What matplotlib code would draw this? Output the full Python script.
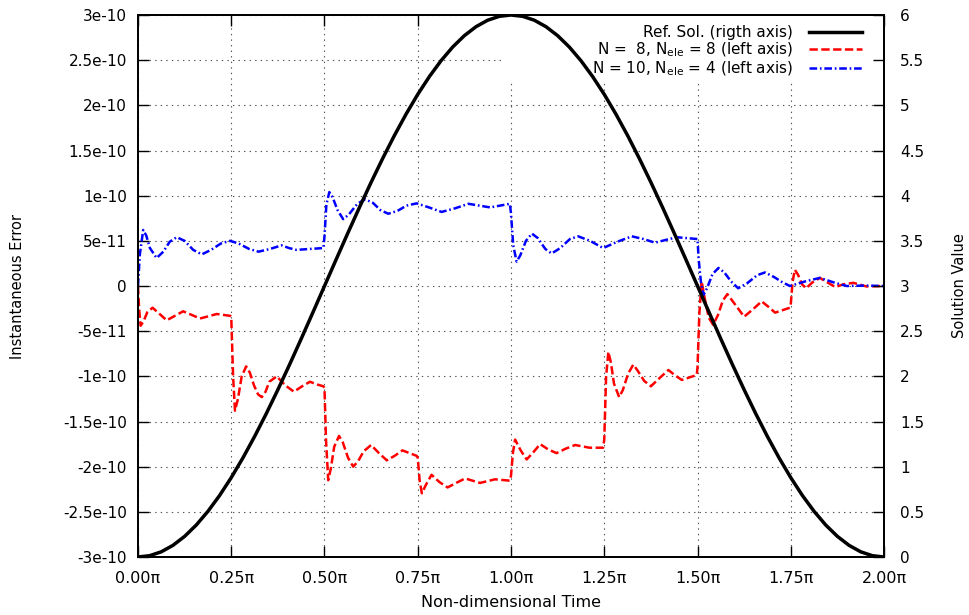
import numpy as np
import matplotlib
matplotlib.use('Agg')
import matplotlib.pyplot as plt
from matplotlib.patches import Rectangle

plt.rc('font', size=11, family='DejaVu Sans')
plt.rc('mathtext', fontset='dejavusans')
plt.rc('lines', scale_dashes=False)

# reference solution (right axis), time in units of pi
ref_t = [0.0, 0.03125, 0.0625, 0.09375, 0.125, 0.15625, 0.1875, 0.21875, 0.25,
         0.28125, 0.3125, 0.34375, 0.375, 0.40625, 0.4375, 0.46875, 0.5,
         0.53125, 0.5625, 0.59375, 0.625, 0.65625, 0.6875, 0.71875, 0.75,
         0.78125, 0.8125, 0.84375, 0.875, 0.90625, 0.9375, 0.96875, 1.0,
         1.03125, 1.0625, 1.09375, 1.125, 1.15625, 1.1875, 1.21875, 1.25,
         1.28125, 1.3125, 1.34375, 1.375, 1.40625, 1.4375, 1.46875, 1.5,
         1.53125, 1.5625, 1.59375, 1.625, 1.65625, 1.6875, 1.71875, 1.75,
         1.78125, 1.8125, 1.84375, 1.875, 1.90625, 1.9375, 1.96875, 2.0]
ref_val = [0.0, 0.0145, 0.0576, 0.1292, 0.2284, 0.3542, 0.5056, 0.6810, 0.8787,
           1.0968, 1.3333, 1.5858, 1.8520, 2.1292, 2.4147, 2.7059, 3.0,
           3.2941, 3.5853, 3.8708, 4.1480, 4.4142, 4.6667, 4.9032, 5.1213,
           5.3190, 5.4944, 5.6458, 5.7716, 5.8708, 5.9424, 5.9855, 6.0,
           5.9855, 5.9424, 5.8708, 5.7716, 5.6458, 5.4944, 5.3190, 5.1213,
           4.9032, 4.6667, 4.4142, 4.1480, 3.8708, 3.5853, 3.2941, 3.0,
           2.7059, 2.4147, 2.1292, 1.8520, 1.5858, 1.3333, 1.0968, 0.8787,
           0.6810, 0.5056, 0.3542, 0.2284, 0.1292, 0.0576, 0.0145, 0.0]

# N = 8, Nele = 8 error (units of 1e-11)
red_t = [0.0, 0.003, 0.007, 0.015, 0.025, 0.039, 0.058, 0.077, 0.099, 0.121,
         0.144, 0.166, 0.189, 0.211, 0.247,
         0.250, 0.255, 0.260, 0.268, 0.278, 0.290, 0.300, 0.311, 0.322, 0.332,
         0.342, 0.352, 0.372, 0.395, 0.418, 0.440, 0.461, 0.480, 0.497,
         0.500, 0.504, 0.510, 0.517, 0.526, 0.539, 0.549, 0.563, 0.577, 0.590,
         0.605, 0.625, 0.646, 0.667, 0.688, 0.709, 0.747,
         0.750, 0.755, 0.761, 0.772, 0.787, 0.808, 0.830, 0.853, 0.877, 0.917,
         0.957, 0.997,
         1.000, 1.005, 1.011, 1.026, 1.042, 1.060, 1.078, 1.100, 1.122, 1.147,
         1.172, 1.210, 1.247,
         1.250, 1.255, 1.261, 1.268, 1.276, 1.290, 1.300, 1.314, 1.328, 1.340,
         1.357, 1.375, 1.398, 1.422, 1.440, 1.458, 1.498,
         1.500, 1.505, 1.511, 1.520, 1.530, 1.542, 1.555, 1.568, 1.580, 1.600,
         1.625, 1.648, 1.672, 1.690, 1.708, 1.748,
         1.750, 1.755, 1.761, 1.770, 1.780, 1.791, 1.808, 1.828, 1.848, 1.869,
         1.893, 1.918, 1.953, 2.000]
red_err = [0.0, -2.5, -4.4, -3.9, -2.9, -2.4, -3.1, -3.8, -3.3, -2.8,
           -3.2, -3.6, -3.35, -3.1, -3.3,
           -3.4, -10.0, -13.8, -12.5, -10.0, -8.9, -9.6, -11.0, -12.0, -12.3,
           -11.7, -10.6, -10.0, -11.0, -11.7, -11.1, -10.6, -10.9, -11.1,
           -11.3, -17.0, -21.5, -20.2, -17.8, -16.6, -17.3, -19.0, -20.0, -19.4,
           -18.3, -17.6, -18.5, -19.3, -18.8, -18.2, -18.8,
           -19.0, -21.5, -22.95, -22.0, -20.9, -21.7, -22.3, -21.8, -21.3, -21.8,
           -21.4, -21.55,
           -21.0, -18.5, -17.0, -18.2, -19.2, -18.4, -17.5, -18.1, -18.5, -18.0,
           -17.6, -17.9, -17.9,
           -17.0, -10.0, -7.3, -8.5, -10.8, -12.3, -11.5, -9.7, -8.7, -9.4,
           -10.5, -11.1, -10.2, -9.3, -9.9, -10.4, -9.85,
           -9.0, -3.0, 0.5, -1.5, -3.5, -4.3, -3.2, -1.6, -0.9, -2.0,
           -3.4, -2.6, -1.7, -2.3, -2.95, -2.4,
           -2.0, 0.5, 1.8, 1.2, 0.2, -0.25, 0.4, 0.9, 0.4, -0.1,
           0.2, 0.35, -0.05, 0.0]

# N = 10, Nele = 4 error (units of 1e-11)
blue_t = [0.0, 0.005, 0.014, 0.022, 0.032, 0.050, 0.068, 0.085, 0.104, 0.125,
          0.148, 0.171, 0.196, 0.222, 0.247, 0.270, 0.298, 0.323, 0.354, 0.385,
          0.405, 0.425, 0.460, 0.497,
          0.500, 0.505, 0.513, 0.522, 0.535, 0.550, 0.565, 0.588, 0.609, 0.630,
          0.650, 0.671, 0.695, 0.720, 0.747, 0.780, 0.814, 0.850, 0.886, 0.944,
          0.997,
          1.000, 1.006, 1.015, 1.025, 1.040, 1.056, 1.072, 1.092, 1.109, 1.132,
          1.158, 1.180, 1.212, 1.247, 1.285, 1.324, 1.355, 1.386, 1.444, 1.500,
          1.503, 1.509, 1.516, 1.526, 1.540, 1.556, 1.572, 1.590, 1.609, 1.633,
          1.660, 1.681, 1.705, 1.728, 1.748, 1.788, 1.828, 1.865, 1.900, 1.950,
          2.000]
blue_err = [0.0, 3.5, 6.2, 5.6, 4.2, 3.1, 3.8, 4.9, 5.4, 5.0,
            4.0, 3.5, 4.0, 4.7, 5.0, 4.7, 4.1, 3.8, 4.1, 4.5,
            4.2, 4.0, 4.1, 4.2,
            5.5, 9.0, 10.4, 9.8, 8.4, 7.4, 7.9, 9.1, 9.6, 9.2,
            8.4, 8.0, 8.3, 8.9, 9.15, 8.7, 8.2, 8.6, 9.1, 8.7,
            9.1,
            8.0, 4.5, 2.7, 3.4, 5.0, 5.8, 5.3, 4.1, 3.6, 4.2,
            5.2, 5.5, 5.0, 4.2, 4.9, 5.5, 5.2, 4.8, 5.4, 5.2,
            3.0, 0.5, -1.0, -0.2, 1.3, 2.0, 1.5, 0.5, -0.25, 0.3,
            1.2, 1.5, 1.0, 0.4, 0.0, 0.5, 0.9, 0.4, 0.0, 0.05,
            0.0]

xticks = [0.0, 0.25, 0.5, 0.75, 1.0, 1.25, 1.5, 1.75, 2.0]
yticks_left = np.arange(-3e-10, 3.01e-10, 0.5e-10)
ylabels_left = ['-3e-10', '-2.5e-10', '-2e-10', '-1.5e-10', '-1e-10', '-5e-11', '0',
                '5e-11', '1e-10', '1.5e-10', '2e-10', '2.5e-10', '3e-10']
yticks_right = np.arange(0, 6.01, 0.5)
ylabels_right = ['0', '0.5', '1', '1.5', '2', '2.5', '3', '3.5', '4', '4.5', '5', '5.5', '6']

fig = plt.figure(figsize=(9.69, 6.15), dpi=100)
ax = fig.add_axes([0.1424, 0.0943, 0.7699, 0.8813])
ax2 = ax.twinx()

ax.set_axisbelow(True)
ax.grid(True, linestyle=(0, (1, 3)), color='#555555', linewidth=0.8)
# white key area covering the grid
ax.add_patch(Rectangle((0.489, 0.8745), 0.511, 0.1255, transform=ax.transAxes,
                       facecolor='white', edgecolor='none', zorder=1))

l2, = ax.plot(red_t, np.array(red_err)*1e-11, color='#ff0000', lw=1.8,
              dashes=(6, 2.5), label=r'N =  8, N$_{\rm ele}$ = 8 (left axis)')
l3, = ax.plot(blue_t, np.array(blue_err)*1e-11, color='#0000ff', lw=1.8,
              dashes=(5.5, 2, 1.2, 2), label=r'N = 10, N$_{\rm ele}$ = 4 (left axis)')
l1, = ax2.plot(ref_t, ref_val, color='black', lw=2.5, label='Ref. Sol. (rigth axis)')

ax.set_xlim(0, 2)
ax.set_ylim(-3e-10, 3e-10)
ax2.set_ylim(0, 6)
ax.set_xticks(xticks)
ax.set_xticklabels(['%.2f\u03c0' % v for v in xticks], fontsize=11.5)
ax.set_yticks(yticks_left)
ax.set_yticklabels(ylabels_left)
ax2.set_yticks(yticks_right)
ax2.set_yticklabels(ylabels_right)

ax.tick_params(axis='x', direction='in', length=8, width=1, top=True, pad=10)
ax.tick_params(axis='y', direction='in', length=8, width=1, pad=8)
ax2.tick_params(axis='y', direction='in', length=8, width=1, pad=11.5)
for a in (ax, ax2):
    for s in a.spines.values():
        s.set_linewidth(1.3)

ax.set_xlabel('Non-dimensional Time', fontsize=11.5)
ax.xaxis.set_label_coords(0.5, -0.070)
ax.set_ylabel('Instantaneous Error', fontsize=10.5)
ax.yaxis.set_label_coords(-0.152, 0.5)
ax2.set_ylabel('Solution Value', fontsize=10.5)
ax2.yaxis.set_label_coords(1.091, 0.5)

leg = ax2.legend(handles=[l1, l2, l3], loc='upper right', bbox_to_anchor=(0.9705, 0.9815),
                 frameon=False, markerfirst=False, borderaxespad=0, borderpad=0,
                 handlelength=3.5, handletextpad=1.0, labelspacing=0.05)

plt.savefig('out.png', dpi=100)
